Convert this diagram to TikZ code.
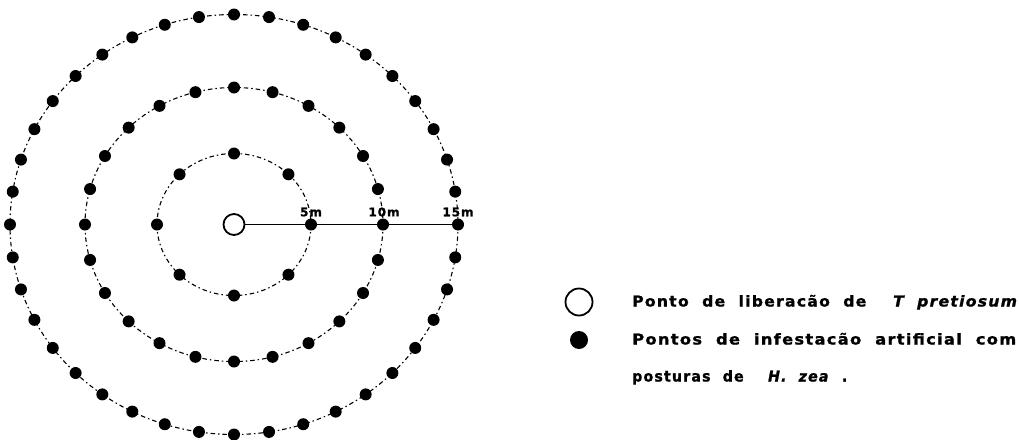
\documentclass[tikz,border=0pt]{standalone}
\usepackage{fontspec}
\usepackage{graphicx}
\newfontfamily\legfont[LetterSpace=8,WordSpace=2,BoldFeatures={FakeBold=1.2},BoldItalicFeatures={FakeBold=1.2}]{DejaVu Sans}
\begin{document}
\begin{tikzpicture}[x=1pt,y=-1pt,
  ring/.style={line width=1.1pt, dash pattern=on 4.5pt off 3pt on 1.5pt off 3pt},
  dot/.style={circle, fill=black, inner sep=0pt, minimum size=12pt},
  opendot/.style={circle, draw=black, line width=1.8pt, fill=white, inner sep=0pt, minimum size=21pt},
  radial/.style={line width=1.7pt},
  dist/.style={font=\legfont\bfseries\fontsize{12}{14}\selectfont, inner sep=0pt},
  legtext/.style={anchor=base west, inner sep=0pt, font=\legfont\bfseries\fontsize{15}{17}\selectfont}]
\useasboundingbox (0,0) rectangle (1019,439);
\coordinate (c0) at (234,224.5);
% rings
\draw[ring] (c0) ellipse [x radius=77, y radius=71];
\draw[ring] (c0) ellipse [x radius=149, y radius=137];
\draw[ring] (c0) ellipse [x radius=224, y radius=210];
% release point
\node[opendot] (c) at (c0) {};
% infestation points
\foreach \i in {0,...,7}
  \node[dot] (i\i) at ([shift={({\i*45}:77 and 71)}]c0) {};
\foreach \i in {0,...,23}
  \node[dot] (m\i) at ([shift={({\i*15}:149 and 137)}]c0) {};
\foreach \i in {0,...,39}
  \node[dot] (o\i) at ([shift={({\i*9}:224 and 210)}]c0) {};
% radial line
\draw[radial] (c) -- (o0);
% distance labels
\node[dist] (l5) at (311,212) {5m};
\node[dist] (l10) at (384,212) {10m};
\node[dist] (l15) at (458,212) {15m};
% legend
\node[opendot, minimum size=27pt] (lc) at (579,302) {};
\node[dot, minimum size=18pt] (ld) at (579,340) {};
\node[legtext] (t1) at (632,306.5) {\resizebox{386pt}{\height}{Ponto de liberacão de \ \textit{T pretiosum}}};
\node[legtext] (t2) at (632,344.5) {\resizebox{384pt}{\height}{Pontos de infestacão artificial com}};
\node[legtext] (t3) at (632,381.5) {\resizebox{215pt}{\height}{posturas de \ \textit{H. zea} .}};
\end{tikzpicture}
\end{document}
